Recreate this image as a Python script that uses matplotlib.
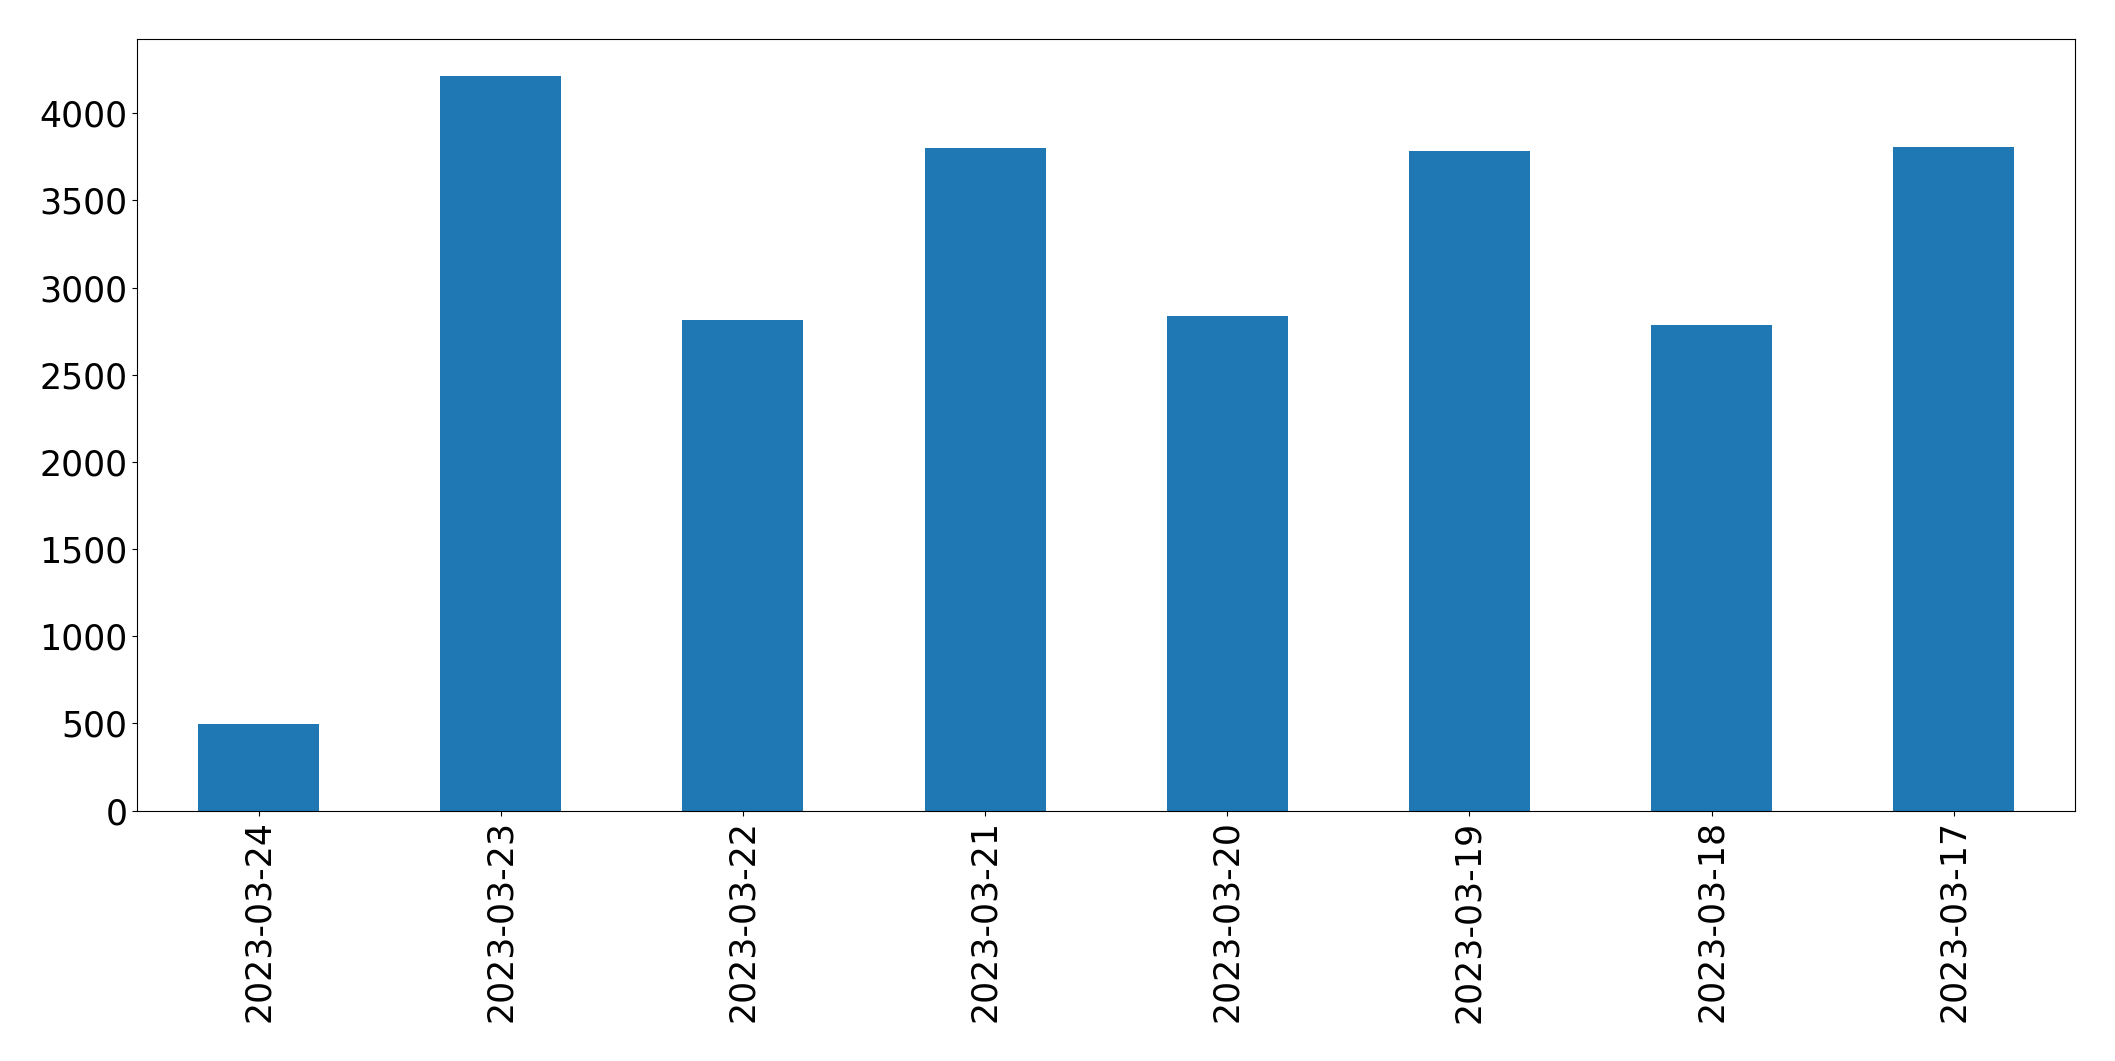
import matplotlib
matplotlib.use("Agg")
import matplotlib.pyplot as plt

dates = ["2023-03-24", "2023-03-23", "2023-03-22", "2023-03-21",
         "2023-03-20", "2023-03-19", "2023-03-18", "2023-03-17"]
counts = [495, 4214, 2813, 3801, 2837, 3784, 2786, 3807]

fig = plt.figure(figsize=(21.15, 10.61), dpi=100)
ax = fig.add_axes([0.065, 0.236, 0.916, 0.727])
x = list(range(len(dates)))
ax.bar(x, counts, width=0.5, color="#1f77b4")
ax.set_xlim(-0.5, len(dates) - 0.5)
ax.set_xticks(x)
ax.set_xticklabels(dates, rotation=90)
ax.tick_params(axis="both", labelsize=25)
fig.savefig("out.png", dpi=100)
